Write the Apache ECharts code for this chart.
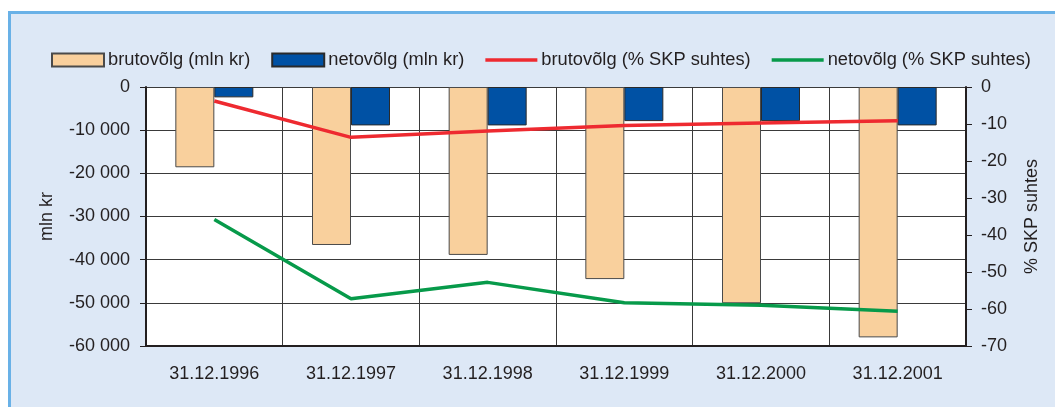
<!DOCTYPE html>
<html>
<head>
<meta charset="utf-8">
<script src="https://cdn.jsdelivr.net/npm/echarts@6/dist/echarts.min.js"></script>
<style>
html,body{margin:0;padding:0;background:#fff;}
#chart{width:1055px;height:407px;}
</style>
</head>
<body>
<div id="chart"></div>
<script>
const categories = ['31.12.1996','31.12.1997','31.12.1998','31.12.1999','31.12.2000','31.12.2001'];
const bruttoMln = [-18600, -36600, -38900, -44500, -50100, -58000];
const nettoMln = [-2400, -8900, -8900, -7900, -7900, -8900];
const bruttoPct = [-3.8, -13.6, -11.9, -10.4, -9.7, -9.1];
const nettoPct = [-35.8, -57.2, -52.8, -58.3, -59.0, -60.6];
const seriesNames = ['brutovõlg (mln kr)', 'netovõlg (mln kr)', 'brutovõlg (% SKP suhtes)', 'netovõlg (% SKP suhtes)'];
const leftAxisName = 'mln kr';
const rightAxisName = '% SKP suhtes';

const FONT = "'Liberation Sans', Arial, Helvetica, sans-serif";
const TXT = '#231f20';
const LINE_ICON = 'path://M0,0L52,0L52,3.5L0,3.5Z';

function fmtThousands(v) {
  const neg = v < 0;
  let s = String(Math.abs(Math.round(v)));
  s = s.replace(/\B(?=(\d{3})+(?!\d))/g, ' ');
  return (neg ? '-' : '') + s;
}

const chart = echarts.init(document.getElementById('chart'), null, {renderer: 'canvas'});
chart.setOption({
  animation: false,
  backgroundColor: '#ffffff',
  graphic: [{
    type: 'rect',
    z: -10,
    silent: true,
    shape: {x: 9.5, y: 12.5, width: 1200, height: 600},
    style: {fill: '#dde8f6', stroke: '#69b1e7', lineWidth: 3}
  }],
  textStyle: {fontFamily: FONT, color: TXT},
  legend: {
    data: [
      {name: seriesNames[0], icon: 'rect'},
      {name: seriesNames[1], icon: 'rect'},
      {name: seriesNames[2], icon: LINE_ICON},
      {name: seriesNames[3], icon: LINE_ICON}
    ],
    left: 46,
    top: 46,
    width: 1000,
    itemWidth: 52,
    itemHeight: 13,
    itemGap: 21,
    symbolKeepAspect: true,
    textStyle: {fontFamily: FONT, fontSize: 18.3, color: TXT, padding: [0, 0, 0, -1]}
  },
  grid: {left: 146, right: 89, top: 87, bottom: 61, containLabel: false, show: true, backgroundColor: '#ffffff', borderWidth: 0},
  xAxis: {
    type: 'category',
    data: categories,
    boundaryGap: true,
    axisLine: {onZero: false, lineStyle: {color: '#231f20', width: 2}},
    axisTick: {show: false},
    axisLabel: {fontFamily: FONT, fontSize: 18, color: TXT, margin: 19},
    splitLine: {show: true, lineStyle: {color: '#3a3a3a', width: 1}}
  },
  yAxis: [{
    type: 'value',
    min: -60000, max: 0, interval: 10000,
    name: leftAxisName,
    nameLocation: 'middle',
    nameGap: 90,
    nameRotate: 90,
    nameTextStyle: {fontFamily: FONT, fontSize: 18, color: TXT},
    axisLine: {show: true, lineStyle: {color: '#231f20', width: 2}},
    axisTick: {show: true, length: 6, lineStyle: {color: '#231f20'}},
    axisLabel: {fontFamily: FONT, fontSize: 18, color: TXT, margin: 16, formatter: fmtThousands},
    splitLine: {show: true, lineStyle: {color: '#3a3a3a', width: 1}}
  }, {
    type: 'value',
    position: 'right',
    min: -70, max: 0, interval: 10,
    name: rightAxisName,
    nameLocation: 'middle',
    nameGap: 57,
    nameRotate: 90,
    nameTextStyle: {fontFamily: FONT, fontSize: 18, color: TXT},
    axisLine: {show: true, lineStyle: {color: '#231f20', width: 2}},
    axisTick: {show: true, length: 6, lineStyle: {color: '#231f20'}},
    axisLabel: {fontFamily: FONT, fontSize: 18, color: TXT, margin: 15},
    splitLine: {show: false}
  }],
  series: [{
    name: seriesNames[0],
    type: 'bar',
    data: bruttoMln,
    yAxisIndex: 0,
    barWidth: 39,
    barGap: '0%',
    itemStyle: {color: '#f9d09d', borderColor: '#4a4a4a', borderWidth: 1}
  }, {
    name: seriesNames[1],
    type: 'bar',
    data: nettoMln,
    yAxisIndex: 0,
    barWidth: 39,
    barGap: '0%',
    itemStyle: {color: '#0051a4', borderColor: '#2a2a2a', borderWidth: 1}
  }, {
    name: seriesNames[2],
    type: 'line',
    data: bruttoPct,
    yAxisIndex: 1,
    symbol: 'none',
    z: 5,
    lineStyle: {color: '#ee2a30', width: 3.5},
    itemStyle: {color: '#ee2a30'}
  }, {
    name: seriesNames[3],
    type: 'line',
    data: nettoPct,
    yAxisIndex: 1,
    symbol: 'none',
    z: 5,
    lineStyle: {color: '#079a4a', width: 3.5},
    itemStyle: {color: '#079a4a'}
  }]
});
</script>
</body>
</html>
